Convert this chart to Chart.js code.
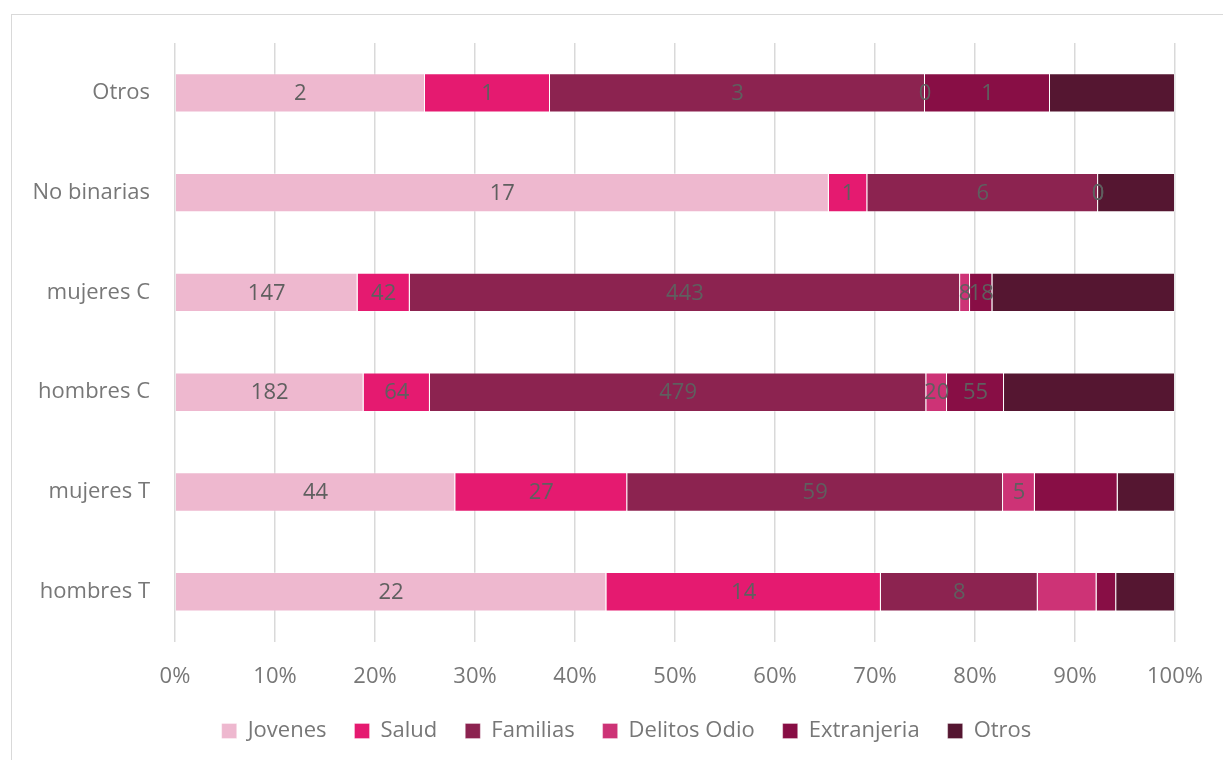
<!DOCTYPE html>
<html>
<head>
<meta charset="utf-8">
<script src="https://cdn.jsdelivr.net/npm/chart.js@4"></script>
<style>
  html, body { margin: 0; padding: 0; background: #fff; overflow: hidden; }
  #frame { position: absolute; left: 11px; top: 14px; width: 1240px; height: 780px; border: 1px solid #d9d9d9; }
  #wrap { position: absolute; left: 0; top: 0; width: 1223px; height: 760px; }
</style>
</head>
<body>
<div id="frame"></div>
<div id="wrap"><canvas id="statsChart"></canvas></div>
<script>
// counts per group (bars are scaled to 100%)
const groups = ['Otros', 'No binarias', 'mujeres C', 'hombres C', 'mujeres T', 'hombres T'];
const jovenes = [2, 17, 147, 182, 44, 22];
const salud = [1, 1, 42, 64, 27, 14];
const familias = [3, 6, 443, 479, 59, 8];
const delitosOdio = [0, 0, 8, 20, 5, 3];
const extranjeria = [1, 0, 18, 55, 13, 1];
const otros = [1, 2, 147, 165, 9, 3];
const xTicks = ['0%', '10%', '20%', '30%', '40%', '50%', '60%', '70%', '80%', '90%', '100%'];

// which data labels the original shows (false = hidden)
const showJovenes = [true, true, true, true, true, true];
const showSalud = [true, true, true, true, true, true];
const showFamilias = [true, true, true, true, true, true];
const showDelitos = [true, true, true, true, true, false];
const showExtranjeria = [true, true, true, true, false, false];
const showOtros = [false, false, false, false, false, false];

const series = [
  { label: 'Jovenes', counts: jovenes, show: showJovenes, color: '#EEB8CF' },
  { label: 'Salud', counts: salud, show: showSalud, color: '#E51A70' },
  { label: 'Familias', counts: familias, show: showFamilias, color: '#8C2350' },
  { label: 'Delitos Odio', counts: delitosOdio, show: showDelitos, color: '#CD3376' },
  { label: 'Extranjeria', counts: extranjeria, show: showExtranjeria, color: '#880E45' },
  { label: 'Otros', counts: otros, show: showOtros, color: '#551631' }
];

const totals = groups.map((g, i) => series.reduce((s, d) => s + d.counts[i], 0));
const FONT = '"Open Sans", Lato, sans-serif';

const segLabels = {
  id: 'segLabels',
  afterDatasetsDraw(chart) {
    const ctx = chart.ctx;
    ctx.save();
    ctx.font = '22px ' + FONT;
    ctx.fillStyle = '#5f5f5f';
    ctx.textAlign = 'center';
    ctx.textBaseline = 'middle';
    chart.data.datasets.forEach((ds, di) => {
      const meta = chart.getDatasetMeta(di);
      meta.data.forEach((el, i) => {
        if (!ds.showLabel[i]) return;
        ctx.fillText(String(ds.counts[i]), (el.x + el.base) / 2, el.y + 1);
      });
    });
    ctx.restore();
  }
};

// legend in the original sits centred under the plot, not under the whole canvas
const legendShift = {
  id: 'legendShift',
  afterLayout(chart) {
    chart.legend.left += 39;
    chart.legend.right += 39;
  }
};

const ctx = document.getElementById('statsChart').getContext('2d');
new Chart(ctx, {
  type: 'bar',
  data: {
    labels: groups,
    datasets: series.map(s => ({
      label: s.label,
      data: s.counts.map((v, i) => v / totals[i] * 100),
      counts: s.counts,
      showLabel: s.show,
      backgroundColor: s.color,
      borderColor: 'rgba(255,255,255,0.3)',
      borderWidth: 1,
      categoryPercentage: 1,
      barPercentage: 0.395
    }))
  },
  options: {
    indexAxis: 'y',
    responsive: true,
    maintainAspectRatio: false,
    animation: false,
    layout: { padding: { top: 43, right: 48, left: 0, bottom: 8 } },
    scales: {
      x: {
        stacked: true,
        min: 0,
        max: 100,
        border: { display: false },
        grid: { color: '#d9d9d9', lineWidth: 1.5, drawTicks: false },
        ticks: {
          stepSize: 10,
          padding: 22,
          color: '#777777',
          font: { size: 22, family: FONT },
          callback: (v, i) => xTicks[i]
        },
        afterFit: s => { s.height -= 20; s.paddingRight = 0; s.paddingLeft = 0; }
      },
      y: {
        stacked: true,
        border: { display: false },
        grid: { display: false, drawTicks: false },
        ticks: {
          padding: 25,
          color: '#777777',
          font: { size: 22, family: FONT }
        },
        afterFit: s => { s.width = 175; }
      }
    },
    plugins: {
      tooltip: { enabled: false },
      legend: {
        position: 'bottom',
        labels: {
          boxWidth: 15,
          boxHeight: 15,
          padding: 28,
          color: '#777777',
          font: { size: 22, family: FONT }
        }
      }
    }
  },
  plugins: [segLabels, legendShift]
});
</script>
</body>
</html>
